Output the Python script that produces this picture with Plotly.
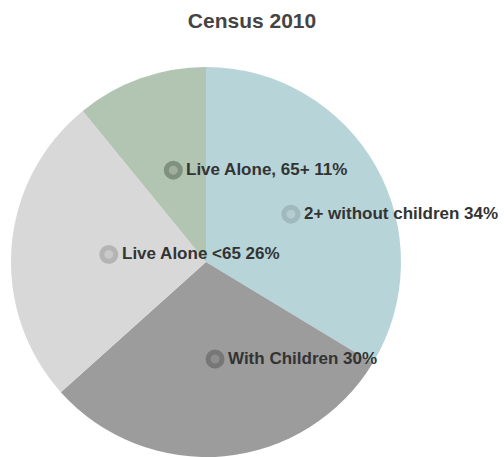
import numpy as np
import plotly.graph_objects as go

# Household types, Census 2010 (percent of households)
categories = ["2+ without children", "With Children", "Live Alone <65", "Live Alone, 65+"]
shares = [34, 30, 26, 11]

slice_colors = ["#b7d4d9", "#9c9c9c", "#d8d8d8", "#b2c5b2"]
ring_colors = ["#9fb9bd", "#777777", "#b4b4b4", "#7e927e"]
dot_colors = ["#b6cbcf", "#8e8e8e", "#c9c9c9", "#9fae9f"]

W, H = 504, 457
ML, MR, MT, MB = 10, 102, 67, 0
plot_w, plot_h = W - ML - MR, H - MT - MB
radius = min(plot_w, plot_h) / 2

fig = go.Figure()

fig.add_trace(go.Pie(
    labels=categories,
    values=shares,
    sort=False,
    direction="clockwise",
    rotation=0,
    marker=dict(colors=slice_colors, line=dict(width=0)),
    textinfo="none",
    hoverinfo="label+percent",
    showlegend=False,
))

# Label anchors: halfway out along each slice's middle angle (clockwise from 12 o'clock)
vals = np.array(shares, dtype=float)
cum = np.cumsum(vals) / vals.sum()
mid = (cum - vals / vals.sum() / 2) * 2 * np.pi
lx = 0.5 * radius * np.sin(mid)
ly = 0.5 * radius * np.cos(mid)

# Invisible trace so the cartesian axes exist for the label layer
fig.add_trace(go.Scatter(x=lx, y=ly, mode="markers", marker=dict(opacity=0),
                         hoverinfo="skip", showlegend=False))

ring_r = 7
for x, y, name, v, rc, dc in zip(lx, ly, categories, shares, ring_colors, dot_colors):
    # ring marker drawn above the pie
    fig.add_shape(
        type="circle", xref="x", yref="y",
        xsizemode="pixel", ysizemode="pixel",
        xanchor=x, yanchor=y,
        x0=-ring_r, x1=ring_r, y0=-ring_r, y1=ring_r,
        fillcolor=dc, line=dict(color=rc, width=5), layer="above",
    )
    fig.add_annotation(
        x=x, y=y, xref="x", yref="y",
        text=f"{name} {v}%",
        showarrow=False, xanchor="left", yanchor="middle",
        xshift=11, yshift=1,
        font=dict(family="Liberation Sans, Arial, sans-serif", size=17, color="#333333", weight=700),
    )

fig.update_layout(
    width=W, height=H,
    margin=dict(l=ML, r=MR, t=MT, b=MB),
    paper_bgcolor="white", plot_bgcolor="rgba(0,0,0,0)",
    title=dict(
        text="Census 2010",
        x=0.5, xref="container", xanchor="center",
        y=1 - 21 / H, yref="container", yanchor="middle",
        font=dict(family="Liberation Sans, Arial, sans-serif", size=21, color="#444444", weight=700),
    ),
    xaxis=dict(range=[-plot_w / 2, plot_w / 2], visible=False, fixedrange=True),
    yaxis=dict(range=[-plot_h / 2, plot_h / 2], visible=False, fixedrange=True),
)

fig.write_html("out.html")
